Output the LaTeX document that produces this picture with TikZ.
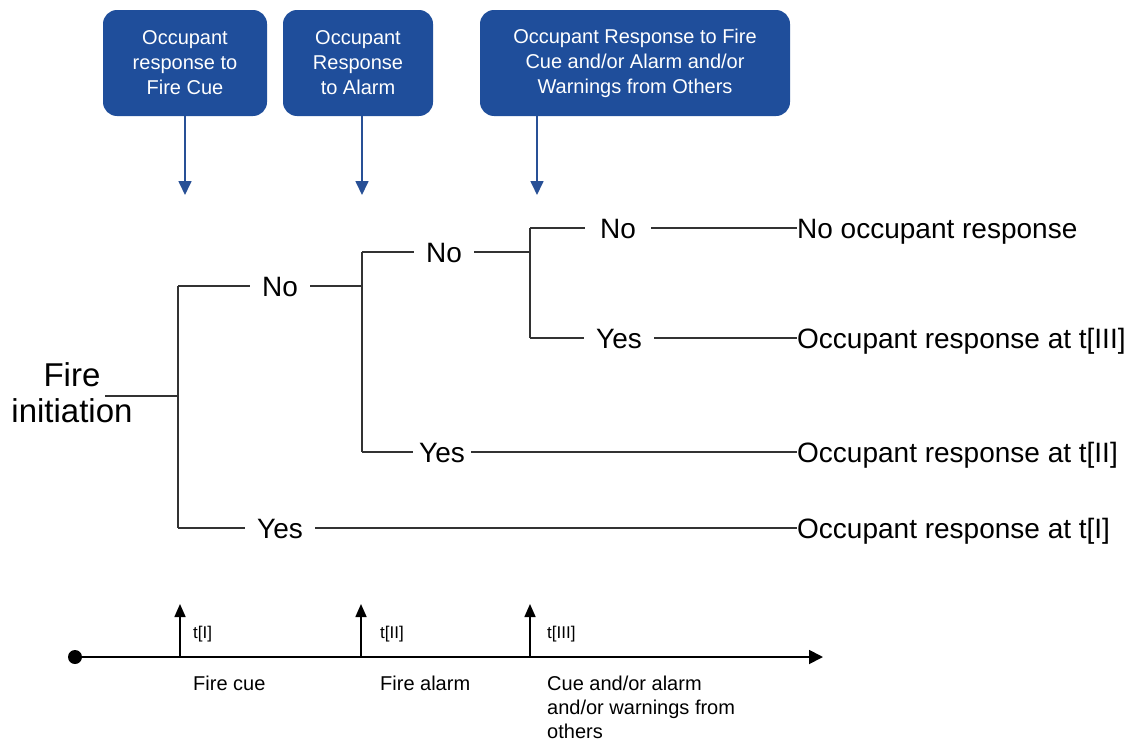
\documentclass[tikz,border=0pt]{standalone}
\usepackage{fontspec}
\setmainfont{Liberation Sans}
\usetikzlibrary{arrows.meta}
\definecolor{boxblue}{RGB}{31,78,155}
\definecolor{arrblue}{RGB}{40,80,150}
\definecolor{treeline}{RGB}{50,50,50}
\tikzset{
  hdrbox/.style={draw=none, fill=boxblue, rounded corners=14pt, minimum height=106pt,
    text=white, align=center, font=\fontsize{20}{25}\selectfont, inner sep=0pt},
  hdrarrow/.style={draw=arrblue, line width=1.7pt, -{Triangle[length=14pt,width=13pt]}},
  branch/.style={font=\fontsize{28}{30}\selectfont, inner xsep=12pt, inner ysep=0pt,
    text height=20pt, text depth=0pt},
  result/.style={font=\fontsize{28}{30}\selectfont, inner sep=0pt, anchor=west,
    text height=20pt, text depth=0pt},
  tline/.style={draw=treeline, line width=1.7pt},
  axis/.style={draw=black, line width=1.8pt},
  tick/.style={draw=black, line width=1.6pt, -{Triangle[length=13pt,width=11pt]}},
  tlab/.style={font=\fontsize{17}{20}\selectfont, inner sep=0pt, anchor=west},
  evlab/.style={font=\fontsize{20}{24}\selectfont, inner sep=0pt, anchor=north west, align=left},
}
\begin{document}
\begin{tikzpicture}[x=1pt,y=-1pt]
\useasboundingbox (0,0) rectangle (1146,744);

% header boxes
\node[hdrbox, minimum width=164pt] (b1) at (185,63) {Occupant\\response to\\Fire Cue};
\node[hdrbox, minimum width=150pt] (b2) at (358,63) {Occupant\\Response\\to Alarm};
\node[hdrbox, minimum width=310pt] (b3) at (635,63) {Occupant Response to Fire\\Cue and/or Alarm and/or\\Warnings from Others};
\coordinate (a1) at (185,195);
\coordinate (a2) at (362,195);
\coordinate (a3) at (537,195);
\draw[hdrarrow] (b1.south -| a1) -- (a1);
\draw[hdrarrow] (b2.south -| a2) -- (a2);
\draw[hdrarrow] (b3.south -| a3) -- (a3);

% tree
\node[font=\fontsize{33}{36}\selectfont, align=center, inner sep=0pt] (fi) at (72,393) {Fire\\initiation};
\coordinate (fs) at (105,396);
\coordinate (j1) at (178,396);
\coordinate (j1t) at (178,286);
\coordinate (j1b) at (178,528);
\draw[tline] (fs) -- (j1);
\draw[tline] (j1t) -- (j1b);

\node[branch] (n1) at (280,286) {No};
\node[branch] (y1) at (280,528) {Yes};
\draw[tline] (j1t) -- (n1.west);
\draw[tline] (j1b) -- (y1.west);

\coordinate (j2) at (362,286);
\coordinate (j2t) at (362,252);
\coordinate (j2b) at (362,452);
\draw[tline] (n1.east) -- (j2);
\draw[tline] (j2t) -- (j2b);

\node[branch] (n2) at (444,252) {No};
\node[branch, inner xsep=6pt] (y2) at (442,452) {Yes};
\draw[tline] (j2t) -- (n2.west);
\draw[tline] (j2b) -- (y2.west);

\coordinate (j3) at (530,252);
\coordinate (j3t) at (530,228);
\coordinate (j3b) at (530,338);
\draw[tline] (n2.east) -- (j3);
\draw[tline] (j3t) -- (j3b);

\node[branch, inner xsep=15pt] (n3) at (618,228) {No};
\node[branch] (y3) at (619,338) {Yes};
\draw[tline] (j3t) -- (n3.west);
\draw[tline] (j3b) -- (y3.west);

\node[result] (r1) at (797,228) {No occupant response};
\node[result] (r3) at (797,338) {Occupant response at t[III]};
\node[result] (r2) at (797,452) {Occupant response at t[II]};
\node[result] (r4) at (797,528) {Occupant response at t[I]};
\draw[tline] (n3.east) -- (r1.west);
\draw[tline] (y3.east) -- (r3.west);
\draw[tline] (y2.east) -- (r2.west);
\draw[tline] (y1.east) -- (r4.west);

% timeline
\fill (75,657) circle (7pt);
\coordinate (t0) at (75,657);
\coordinate (tend) at (823,657);
\draw[axis, -{Triangle[length=14pt,width=14pt]}] (t0) -- (tend);
\coordinate (k1) at (180,657);
\coordinate (k2) at (361,657);
\coordinate (k3) at (530,657);
\coordinate (k1t) at (180,604);
\coordinate (k2t) at (361,604);
\coordinate (k3t) at (530,604);
\draw[tick] (k1) -- (k1t);
\draw[tick] (k2) -- (k2t);
\draw[tick] (k3) -- (k3t);
\node[tlab] (l1) at (193,634) {t[I]};
\node[tlab] (l2) at (380,634) {t[II]};
\node[tlab] (l3) at (547,634) {t[III]};
\node[evlab] (e1) at (193,676) {Fire cue};
\node[evlab] (e2) at (380,676) {Fire alarm};
\node[evlab] (e3) at (547,676) {Cue and/or alarm\\and/or warnings from\\others};
\end{tikzpicture}
\end{document}
